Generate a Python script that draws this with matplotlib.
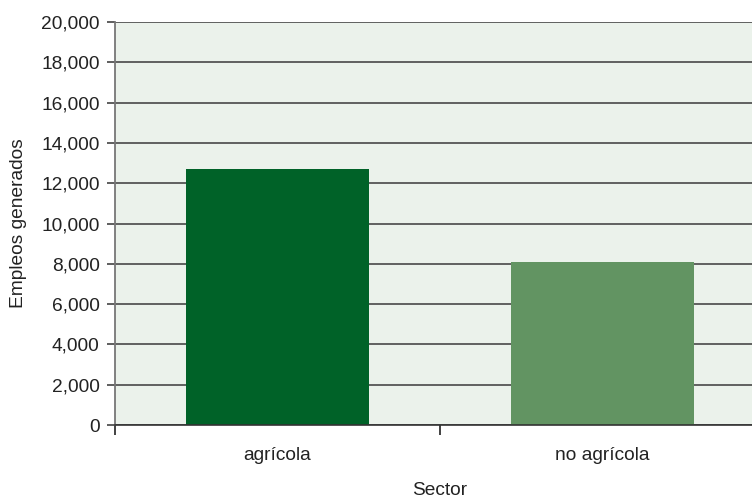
import matplotlib
matplotlib.use("Agg")
import matplotlib.pyplot as plt
from matplotlib.ticker import FuncFormatter

categories = ["agrícola", "no agrícola"]
values = [12700, 8100]
colors = ["#006228", "#629462"]
y_ticks = list(range(0, 20001, 2000))

plt.rcParams['font.family'] = ['Liberation Sans', 'DejaVu Sans']

W, H = 752, 498
fig = plt.figure(figsize=(W / 100, H / 100), dpi=100)
ax = fig.add_axes([115 / W, (H - 425) / H, 650 / W, 403 / H])
ax.set_facecolor("#EBF2EB")

x = list(range(len(categories)))
ax.bar(x, values, width=0.563, color=colors, zorder=3)

ax.set_xlim(-0.5, len(categories) - 0.5)
ax.set_ylim(0, 20000)
ax.set_yticks(y_ticks)
ax.yaxis.set_major_formatter(FuncFormatter(lambda v, p: f"{int(v):,}"))
ax.grid(axis="y", color="#3a3a3a", linewidth=1.1, zorder=1)
ax.set_axisbelow(True)

ax.set_xticks(x)
ax.set_xticklabels(categories)
ax.set_xticks([i - 0.5 for i in range(len(categories) + 1)], minor=True)
ax.tick_params(axis="x", which="major", length=0, pad=16, labelsize=13.8, colors="#222222")
ax.tick_params(axis="x", which="minor", length=7, width=1.3, color="#333333")
ax.tick_params(axis="y", length=6, width=1.1, color="#333333", pad=5, labelsize=13.8, labelcolor="#222222")

for s in ["top", "right"]:
    ax.spines[s].set_visible(False)
ax.spines["left"].set_color("#777777")
ax.spines["left"].set_linewidth(1.3)
ax.spines["bottom"].set_color("#333333")
ax.spines["bottom"].set_linewidth(1.2)
ax.spines["bottom"].set_zorder(4)

ax.set_ylabel("Empleos generados", fontsize=13.8, color="#222222", labelpad=10)
ax.set_xlabel("Sector", fontsize=13.8, color="#222222", labelpad=12.5)

fig.savefig("out.png", dpi=100)
